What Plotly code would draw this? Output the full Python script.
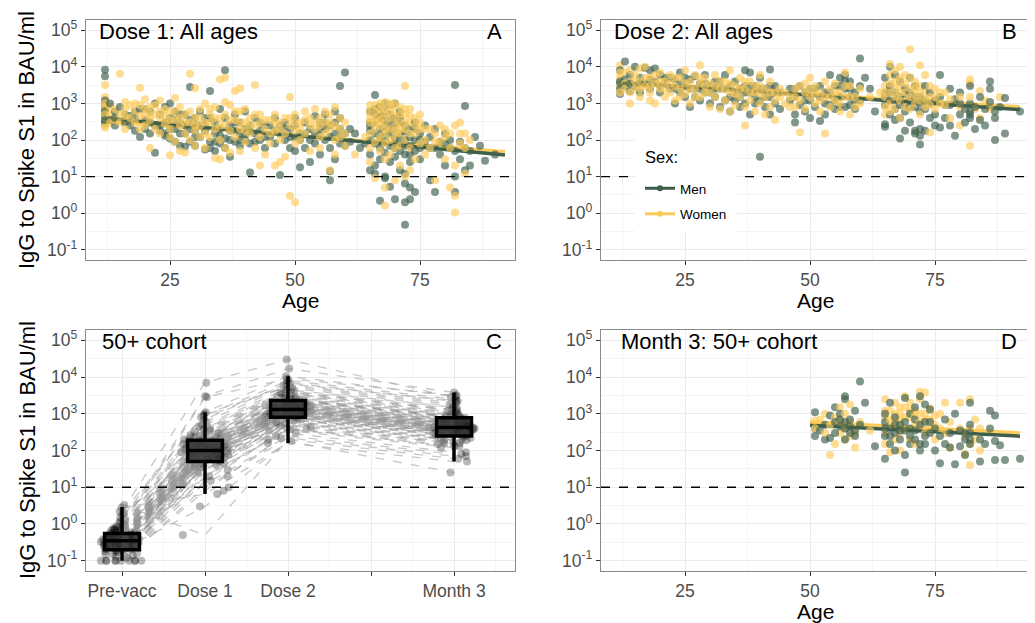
import plotly.graph_objects as go

# ---------------- data ----------------
MEN_COLOR = "#3E5F4C"
WOMEN_COLOR = "#FDCB5A"
SEX_LABELS = ["Men", "Women"]

# Panel A: Dose 1, all ages  (age, [IgG values in BAU/ml])
A_men = [
 (12, [280, 300, 700, 900, 1200, 8300, 5500, 450, 600, 350]), (13, [1000, 350]), (14, [600, 250, 400]),
 (15, [800]), (16, [500, 300]), (17, [450, 250]), (18, [180, 400, 600]), (19, [120, 700]),
 (20, [350, 200, 700]), (21, [150, 600, 300]), (22, [45, 1000, 250]), (23, [180, 500, 250]),
 (24, [800, 300, 130, 150]), (25, [1000, 400, 110, 200]), (26, [600, 90, 200, 350]), (27, [300, 70, 150, 500]),
 (28, [150, 500, 65, 250]), (29, [2800, 200, 90, 350]), (30, [180, 70, 250, 400, 120]), (31, [600, 120, 250]),
 (32, [250, 55, 180, 400]), (33, [2200, 400, 90, 60]), (34, [150, 300, 50, 90]), (35, [700, 200, 80, 130]),
 (36, [8000, 110, 400, 60]), (37, [250, 100, 35, 180]), (38, [500, 180, 90, 300]), (39, [300, 150, 70, 100]),
 (40, [600, 100, 200, 140]), (41, [13, 250, 80, 170]), (42, [400, 150, 90]), (43, [180, 300, 100]),
 (44, [120, 250, 60]), (45, [250, 120]), (46, [80, 400, 180]), (47, [11, 150, 250]), (48, [300, 200, 100]),
 (49, [120, 60, 200]), (50, [250, 50, 400, 120]), (51, [18, 150, 100]), (52, [60, 300, 150]),
 (53, [200, 25, 100]), (54, [450, 80, 150]), (55, [40, 300, 130, 200]), (56, [200, 500, 100, 300]),
 (57, [8, 14, 250, 60, 120]), (58, [30, 300, 150, 600]), (59, [3000, 400, 80, 200, 120]),
 (60, [7000, 150, 70]), (61, [200, 90]), (62, [150]), (63, [60]), (64, [80]),
 (65, [15, 100, 250, 40, 600, 300, 180]), (66, [1700, 20, 12, 300, 150, 80, 500, 700]),
 (67, [2.2, 400, 60, 200, 30, 800, 120, 500]), (68, [1000, 10, 250, 100, 45, 600, 9, 350, 160]),
 (69, [5.3, 300, 150, 70, 25, 500, 200, 900]), (70, [2.4, 1000, 200, 80, 400, 35, 120, 60, 250]),
 (71, [300, 50, 600, 150, 15, 100, 400]), (72, [0.48, 2, 6.5, 100, 250, 40, 12, 170, 70]),
 (73, [2.4, 5, 200, 70, 25, 120, 40]), (74, [3.8, 100, 300, 50, 200]), (75, [150, 60, 30, 100]),
 (76, [250, 90]), (77, [8, 120, 60]), (78, [3.8, 60, 200]), (79, [90, 40]), (80, [150, 20, 80]),
 (81, [60, 100]), (82, [3200, 3.8, 10, 50]), (83, [30, 90]), (84, [850, 15, 60]), (85, [50, 20]),
 (86, [120]), (87, [70]), (88, [27]), (90, [40]),
]
A_women = [
 (12, [3200, 1500, 600, 400, 250, 220, 1000, 800, 500]), (13, [800, 500, 300]), (14, [700, 350]),
 (15, [6500, 300, 500]), (16, [1100, 700, 200, 450]), (17, [400, 900]), (18, [600, 300, 1000]),
 (19, [2700, 900, 200, 450]), (20, [1300, 500, 250, 700]), (21, [60, 800, 350, 500]), (22, [500, 200, 900]),
 (23, [1200, 400, 150, 600]), (24, [700, 280, 450]), (25, [38, 600, 200, 120, 350]),
 (26, [1400, 350, 90, 600]), (27, [800, 250, 50, 400]), (28, [45, 500, 150, 300]),
 (29, [6500, 300, 100, 600]), (30, [2600, 400, 180, 70, 250]), (31, [700, 250, 400, 120]),
 (32, [1000, 150, 60, 300]), (33, [500, 120, 300, 700]), (34, [32, 800, 200, 400]),
 (35, [4500, 30, 400, 100, 250]), (36, [5000, 1100, 250, 60, 500]), (37, [900, 180, 45, 350]),
 (38, [2200, 350, 120, 600]), (39, [2600, 600, 200, 50, 300]), (40, [300, 90, 700, 180]),
 (41, [400, 150, 250]), (42, [3200, 250, 60, 500]), (43, [20, 500, 120, 300]), (44, [200, 40, 350]),
 (45, [350, 80, 150]), (46, [20, 180, 500, 300]), (47, [25, 300, 100, 200]), (48, [35, 400, 150]),
 (49, [1500, 3, 250, 400]), (50, [2, 500, 80, 180, 300]), (51, [300, 100, 200]), (52, [600, 150, 350]),
 (53, [250, 50, 400]), (54, [700, 200, 300]), (55, [400, 60, 120, 250]), (56, [300, 150, 600]),
 (57, [15, 500, 200, 300]), (58, [800, 100, 40, 250]), (59, [400, 200, 120]), (60, [150, 70, 300]),
 (62, [40]), (64, [120]),
 (65, [600, 300, 150, 60, 25, 400, 900]), (66, [900, 400, 200, 90, 9, 600, 300]),
 (67, [1000, 500, 250, 120, 50, 700, 350]), (68, [1.6, 5, 1100, 700, 300, 150, 80, 30, 500, 200]),
 (69, [900, 400, 200, 100, 40, 600, 1000]), (70, [1000, 600, 250, 120, 60, 8, 400, 180]),
 (71, [800, 300, 150, 70, 20, 500, 200]), (72, [3000, 10, 500, 200, 100, 700, 300]),
 (73, [700, 300, 60, 15, 450, 150]), (74, [400, 150, 30, 250]), (75, [500, 200, 80, 300]),
 (76, [100, 40, 200]), (77, [200, 60]), (78, [8, 150, 90]), (79, [250, 90]), (80, [30, 200, 120]),
 (81, [5, 150, 60]), (82, [3, 1.05, 250, 20]), (83, [300, 80, 150]), (84, [150, 12, 60]), (85, [100]),
]

# Panel B: Dose 2, all ages
B_men = [
 (12, [1800, 3500, 8000, 2500, 4000]), (13, [14000, 4500, 3000]), (14, [2200, 6000, 3500]),
 (15, [10000, 3000]), (16, [5000, 2000, 3500]), (17, [9500, 3500]), (18, [8000, 2500, 4500]),
 (19, [9000, 4000]), (20, [6000, 3000, 2000]), (21, [3500, 5000]), (22, [2500, 5000]), (23, [1000, 4500, 2500]),
 (24, [2000, 7000, 3500]), (25, [3000, 1500, 5000]), (26, [4500, 800, 2500]), (27, [2500, 5500, 1500]),
 (28, [1200, 3500, 2500]), (29, [6000, 2000, 3500]), (30, [3000, 1000, 2000]), (31, [4000, 1500, 2500]),
 (32, [2500, 800, 4000]), (33, [6000, 1200, 2500]), (34, [3000, 600, 1500]), (35, [2000, 4000, 1200]),
 (36, [1500, 800, 2500]), (37, [8000, 3000, 1000, 2000]), (38, [2000, 500, 7000, 3000]),
 (39, [1500, 3000, 1000]), (40, [35, 1200, 5000, 2500]), (41, [2500, 800, 1500]), (42, [8500, 1500, 500, 3000]),
 (43, [3000, 1000, 2000]), (44, [2000, 700]), (46, [2500, 1200]), (47, [300, 1500, 500, 2500]),
 (48, [3000, 900]), (49, [2000, 600, 1200]), (50, [1200, 400, 2500]), (51, [2500, 800]),
 (52, [330, 1500, 3000]), (53, [1000, 500, 2000]), (54, [2000, 6000, 900]), (55, [1200, 700, 3000]),
 (56, [3000, 5000, 1500, 800]), (57, [6000, 800, 2500, 4000]), (58, [1500, 4000, 900, 2500]),
 (59, [2000, 700, 1200]), (60, [17000, 1200, 3000]), (61, [5000]), (62, [2500]), (63, [600]),
 (65, [270, 230, 5000, 2000, 900, 1500]), (66, [10000, 3000, 1200, 500, 2000]),
 (67, [350, 2000, 700, 6000, 1200]), (68, [110, 4000, 1500, 400, 900]), (69, [600, 180, 2500, 1000, 1800]),
 (70, [1200, 300, 5000, 2000, 800]), (71, [150, 180, 800, 3000, 1500]), (72, [75, 130, 200, 1500, 600, 1000]),
 (73, [3000, 700, 180, 1200]), (74, [1000, 400, 2000]), (75, [500, 250, 1200]), (76, [6000, 220, 1500]),
 (77, [400, 900]), (78, [2500, 250, 900]), (79, [1300, 130]), (80, [2000, 500, 1000]), (81, [700, 300]),
 (82, [3000, 1000, 400, 600, 500]), (83, [200, 800]), (84, [1500, 350]), (85, [250, 700]),
 (86, [4000, 2500, 1100]), (87, [400, 100, 600]), (88, [800]), (89, [1400, 150]), (92, [600]),
]
B_women = [
 (12, [11000, 5000, 3000, 2000, 7000]), (13, [7000, 3500, 2500]), (14, [1000, 4000, 8000, 2000]),
 (15, [2500, 6000, 4000]), (16, [9000, 4000, 1500, 2500]), (17, [3000, 10000, 5000]),
 (18, [2000, 5000, 1200, 3000]), (19, [1000, 3500, 6000]), (20, [7000, 2500, 4000]), (21, [1500, 4000, 2500]),
 (22, [6000, 2000, 3500]), (23, [3000, 1200, 5000]), (24, [5000, 2500, 1500]), (25, [8000, 1800, 3500]),
 (26, [4000, 1000, 2500]), (27, [2500, 6000, 1500]), (28, [11000, 1500, 3500, 5000]), (29, [2000, 5000, 3000]),
 (30, [3500, 800, 2000]), (31, [6000, 1500, 3000]), (32, [2500, 700, 4000]), (33, [4000, 1200, 2500]),
 (34, [8000, 2000, 600, 3500]), (35, [3000, 900, 1800]), (36, [1500, 5000, 2500]), (37, [250, 2500, 800, 4000]),
 (38, [4000, 1200, 2000]), (39, [2000, 600, 3000]), (40, [3000, 1000, 6000, 1800]), (41, [1500, 500, 2500]),
 (42, [4000, 800, 2000]), (43, [350, 2000, 1200]), (44, [1500, 2500]), (45, [2000, 1000]), (46, [1500, 800]),
 (47, [2500, 800, 1500]), (48, [160, 3000, 1200]), (49, [2000, 700, 3500]), (50, [5000, 1500, 2500]),
 (51, [3000, 1000, 1800]), (52, [2000, 600, 1200]), (53, [150, 4000, 1500]), (54, [2500, 800, 1500]),
 (55, [1200, 3500, 2000]), (56, [2000, 600, 1000]), (57, [7000, 1500, 3000]), (58, [3000, 500, 1500]),
 (59, [1500, 800]), (60, [2500, 1000]), (62, [1500]), (64, [2000]),
 (65, [800, 3000, 1500, 500, 2000]), (66, [12000, 6000, 2000, 1000, 600, 3500]),
 (67, [8000, 4000, 1500, 700, 2500]), (68, [10000, 3000, 1200, 400, 2000, 5000]), (69, [6000, 2000, 800, 3500]),
 (70, [30000, 5000, 1500, 700, 2500]), (71, [4000, 2500, 1000, 1600]), (72, [11000, 3000, 1200, 500, 2000]),
 (73, [6000, 2000, 800, 1300]), (74, [1500, 3000, 160, 900]), (75, [2500, 700, 1500]), (76, [1000, 2000]),
 (77, [2000, 900]), (78, [1300, 400]), (80, [800, 250, 1500]), (82, [4500, 3500, 70, 1500]), (83, [700]),
 (84, [2200, 400]), (85, [1200]), (86, [700]), (88, [1500]),
]

# Panel D: Month 3, 50+ cohort
D_men = [
 (51, [1100, 400, 250]), (52, [350]), (53, [200, 500]), (54, [220, 900]), (55, [1500, 600, 300]),
 (56, [1000, 450, 700]), (57, [2500, 3000, 400, 200, 600]), (58, [700, 300, 450]), (59, [1200, 250, 350]),
 (60, [7500, 500]), (61, [2000]), (63, [130]), (65, [600, 250, 60, 1000, 400]), (66, [150, 400, 2000, 250]),
 (67, [300, 100, 800, 500]), (68, [200, 500, 350]), (69, [25, 75, 2700, 350, 600]), (70, [150, 1000, 400, 250]),
 (71, [700, 200, 1500, 350]), (72, [100, 3000, 500, 150]), (73, [1800, 150, 250, 600]), (74, [600, 1300, 300]),
 (75, [400, 100]), (76, [45, 250]), (77, [150, 700]), (78, [120, 300]), (79, [42, 1000]), (80, [130, 350]),
 (81, [75, 300, 200]), (82, [2000, 200, 500, 150, 300]), (84, [50, 200]), (85, [150]), (86, [1200, 400]),
 (87, [55, 180, 900]), (88, [140]), (89, [55]), (92, [60]),
]
D_women = [
 (51, [650, 400]), (52, [700]), (53, [1000, 300]), (54, [75, 500]), (55, [800, 150]), (56, [300, 1500, 600]),
 (57, [400, 200, 1000]), (58, [1800, 250, 600]), (59, [300, 120]), (60, [600]), (62, [350]),
 (65, [800, 2500, 300, 150, 1200]), (66, [1200, 500, 90, 700]), (67, [2000, 600, 200, 1000]),
 (68, [700, 1000, 300, 100, 1500]), (69, [3000, 1500, 400, 800]), (70, [2000, 800, 200, 1200]),
 (71, [1200, 500, 150, 900]), (72, [4000, 2500, 600, 1000]), (73, [3800, 1000, 300, 700]),
 (74, [1400, 700, 400]), (75, [500, 200, 900]), (76, [1000, 400]), (77, [300, 2000]), (78, [600, 120]),
 (80, [2000, 400]), (81, [250, 80]), (82, [2500, 40, 150, 400]), (83, [200, 700]), (84, [400, 100]),
]

# Fitted (log-linear) trend lines: ages and fitted values at the ends
A_fit_age = [12, 92]; A_fit_men = [400, 39]; A_fit_women = [330, 48]
B_fit_age = [12, 92]; B_fit_men = [3800, 680]; B_fit_women = [3600, 800]
D_fit_age = [50, 92]; D_fit_men = [490, 245]; D_fit_women = [600, 300]

# Panel C: 50+ cohort trajectories (one value per person per time point)
C_labels = ["Pre-vacc", "Dose 1", "Dose 2", "", "Month 3"]
C_pos = [1, 2, 3, 4, 5]
C_time_pos = [1, 2, 3, 5]
C_pre = [0.10, 0.10, 0.10, 0.10, 0.10, 0.10, 0.10, 0.12, 0.14, 0.15,
         0.17, 0.18, 0.20, 0.20, 0.21, 0.22, 0.24, 0.25, 0.26, 0.28,
         0.30, 0.30, 0.32, 0.33, 0.35, 0.35, 0.36, 0.38, 0.40, 0.40,
         0.42, 0.44, 0.45, 0.48, 0.50, 0.50, 0.52, 0.55, 0.58, 0.60,
         0.62, 0.65, 0.70, 0.75, 0.80, 0.85, 0.90, 1.00, 1.10, 1.30,
         1.50, 1.80, 2.20, 2.80, 3.30, 0.25, 0.30, 0.18, 0.45, 0.35,
         0.20, 0.60, 0.28, 0.40, 0.15, 0.50, 0.32, 0.22, 0.70, 0.38,
         0.10, 0.10, 0.13, 0.19, 0.23, 0.27, 0.31, 0.34, 0.37, 0.41,
         0.46, 0.53, 0.57, 0.64, 0.72, 0.95, 1.20, 0.29, 0.24, 0.43,
         0.10, 0.16, 0.26, 0.33, 0.39, 0.47, 0.56, 0.68, 0.85, 2.00]
C_dose1 = [8, 30, 60, 120, 45, 200, 15, 90, 70, 150,
           25, 110, 55, 300, 40, 80, 130, 20, 180, 65,
           95, 250, 35, 140, 100, 50, 600, 75, 160, 12,
           220, 85, 120, 45, 400, 105, 60, 280, 30, 190,
           140, 350, 70, 900, 115, 55, 240, 170, 3000, 500,
           1100, 130, 7000, 6.5, 0.5, 80, 100, 40, 210, 90,
           3, 160, 65, 125, 18, 300, 75, 110, 700, 150,
           20, 45, 60, 85, 130, 95, 150, 70, 110, 200,
           260, 120, 40, 180, 320, 450, 800, 55, 90, 135,
           10, 35, 75, 100, 115, 145, 230, 380, 2800, 1000]
C_dose2 = [300, 600, 900, 1500, 700, 2500, 400, 1200, 1000, 1800,
           500, 1400, 800, 3500, 650, 1100, 1600, 350, 2200, 950,
           1300, 3000, 550, 1700, 1250, 850, 6000, 1050, 2000, 250,
           2600, 1150, 1450, 750, 4500, 1350, 900, 3200, 450, 2300,
           1900, 4000, 1000, 8000, 1500, 800, 2800, 2100, 17000, 5000,
           10500, 1600, 30000, 160, 200, 1100, 1300, 600, 2400, 1200,
           180, 1700, 950, 1400, 380, 3300, 1000, 1250, 7000, 1800,
           400, 700, 1000, 1300, 1600, 1200, 1900, 900, 1400, 2400,
           2700, 1500, 550, 2000, 3600, 4200, 6500, 750, 1100, 1700,
           220, 480, 850, 1250, 1350, 1800, 2500, 3800, 9000, 5500]
C_month3 = [90, 200, 300, 500, 250, 800, 150, 400, 350, 600,
            170, 450, 280, 1100, 220, 380, 520, 120, 700, 330,
            420, 950, 190, 560, 410, 300, 2000, 360, 650, 80,
            850, 390, 480, 260, 1500, 440, 310, 1000, 160, 750,
            620, 1300, 340, 2500, 500, 270, 900, 680, 3800, 1600,
            3000, 530, 2800, 50, 60, 370, 430, 210, 780, 400,
            25, 550, 320, 460, 130, 1050, 350, 410, 2200, 580,
            130, 240, 330, 430, 520, 400, 640, 300, 470, 800,
            900, 500, 190, 700, 1200, 1400, 2300, 260, 380, 560,
            70, 160, 280, 420, 450, 610, 830, 1250, 3200, 1800]
# box summaries (log scale)
C_q1 = [0.2, 50, 800, 250]
C_median = [0.35, 100, 1300, 420]
C_q3 = [0.55, 190, 2300, 780]
C_low = [0.1, 6.5, 160, 50]
C_high = [2.9, 1100, 10500, 3800]

threshold = 10
y_tick_vals = [0.1, 1, 10, 100, 1000, 10000, 100000]
y_tick_text = ["10<sup>-1</sup>", "10<sup>0</sup>", "10<sup>1</sup>", "10<sup>2</sup>",
               "10<sup>3</sup>", "10<sup>4</sup>", "10<sup>5</sup>"]
age_ticks = [25, 50, 75]

# ---------------- figure ----------------
OFF = 8                      # page body margin
W, H = 1035 - OFF, 623 - OFF
FONT = "Liberation Sans, Arial, sans-serif"
Y_RANGE = [-1.28, 5.28]
C_RANGE = [0.566, 5.735]

def fx(p):
    return (p - OFF) / W

def fy(p):
    return 1 - (p - OFF) / H

def flat(groups, col):
    pts = []
    for a, vals in groups:
        for v in vals:
            pts.append((a, v, col))
    return pts

def interleave(a, b):
    out = []
    for i in range(max(len(a), len(b))):
        if i < len(a):
            out.append(a[i])
        if i < len(b):
            out.append(b[i])
    return out

fig = go.Figure()

def add_scatter_panel(men, women, fit_age, fit_m, fit_w, xa, ya):
    fig.add_trace(go.Scatter(x=fit_age, y=fit_w, mode="lines", xaxis=xa, yaxis=ya, showlegend=False,
                             line=dict(color=WOMEN_COLOR, width=3.5)))
    fig.add_trace(go.Scatter(x=fit_age, y=fit_m, mode="lines", xaxis=xa, yaxis=ya, showlegend=False,
                             line=dict(color=MEN_COLOR, width=3.5)))
    pts = interleave(flat(men, MEN_COLOR), flat(women, WOMEN_COLOR))
    fig.add_trace(go.Scatter(x=[p[0] for p in pts], y=[p[1] for p in pts], mode="markers",
                             xaxis=xa, yaxis=ya, showlegend=False,
                             marker=dict(color=[p[2] for p in pts], size=8, opacity=0.66, line=dict(width=0))))

add_scatter_panel(A_men, A_women, A_fit_age, A_fit_men, A_fit_women, "x", "y")
add_scatter_panel(B_men, B_women, B_fit_age, B_fit_men, B_fit_women, "x2", "y2")
add_scatter_panel(D_men, D_women, D_fit_age, D_fit_men, D_fit_women, "x4", "y4")

# Panel C: trajectories
lx, ly = [], []
for i in range(len(C_pre)):
    vals = [C_pre[i], C_dose1[i], C_dose2[i], C_month3[i]]
    lx += C_time_pos + [None]
    ly += vals + [None]
fig.add_trace(go.Scatter(x=lx, y=ly, mode="lines", xaxis="x3", yaxis="y3", showlegend=False,
                         line=dict(color="rgba(150,150,150,0.5)", width=1.4, dash="dash")))
px_, py_ = [], []
for pos, series in zip(C_time_pos, [C_pre, C_dose1, C_dose2, C_month3]):
    px_ += [pos] * len(series)
    py_ += series
fig.add_trace(go.Box(x=px_, y=py_, xaxis="x3", yaxis="y3", showlegend=False, boxpoints="all",
                     jitter=1, pointpos=0, width=0.6, fillcolor="rgba(0,0,0,0)",
                     line=dict(color="rgba(0,0,0,0)", width=0),
                     marker=dict(color="rgba(0,0,0,0.28)", size=8)))
# summary boxes on an overlaying copy of panel C axes so they sit above the points
fig.add_trace(go.Box(x=C_time_pos, q1=C_q1, median=C_median, q3=C_q3, lowerfence=C_low,
                     upperfence=C_high, xaxis="x5", yaxis="y5", showlegend=False, boxpoints=False,
                     width=0.42, whiskerwidth=0, fillcolor="rgba(45,45,45,0.8)",
                     line=dict(color="black", width=3.5)))

# legend entries
for name, col in zip(SEX_LABELS, (MEN_COLOR, WOMEN_COLOR)):
    fig.add_trace(go.Scatter(x=[None], y=[None], mode="lines+markers", name=name, xaxis="x2", yaxis="y2",
                             line=dict(color=col, width=3), marker=dict(color=col, size=6),
                             legendgroup=name))

# domains (pixel based)
colx = {0: [fx(86), fx(515)], 1: [fx(601), fx(1030)]}
rowy = {0: [fy(260), fy(20)], 1: [fy(571), fy(330)]}

y_minor = [10 ** (k + 0.5) for k in range(-2, 6)]
GRID = "#ebebeb"
MINOR = "#f4f4f4"
BORDER = "#8a8a8a"
TICKFONT = dict(size=17.5, color="#4d4d4d")

def yax(dom, anchor):
    return dict(domain=dom, anchor=anchor, type="log", range=Y_RANGE, tickmode="array",
                tickvals=y_tick_vals, ticktext=y_tick_text, showgrid=True, gridcolor=GRID, gridwidth=1.3,
                minor=dict(tickmode="array", tickvals=y_minor, showgrid=True, gridcolor=MINOR,
                           gridwidth=0.8, ticks=""),
                showline=True, linecolor=BORDER, linewidth=1.2, mirror=True, ticks="outside", ticklen=4,
                tickcolor="#333333", tickfont=TICKFONT, zeroline=False, automargin=False)

def xage(dom, anchor):
    return dict(domain=dom, anchor=anchor, range=[8.2, 94], tickmode="array", tickvals=age_ticks,
                showgrid=True, gridcolor=GRID, gridwidth=1.3,
                minor=dict(tickmode="array", tickvals=[12.5, 37.5, 62.5, 87.5], showgrid=True,
                           gridcolor=MINOR, gridwidth=0.8, ticks=""),
                showline=True, linecolor=BORDER, linewidth=1.2, mirror=True, ticks="outside", ticklen=4,
                tickcolor="#333333", tickfont=TICKFONT, zeroline=False, automargin=False)

xc = dict(domain=colx[0], anchor="y3", range=C_RANGE, tickmode="array", tickvals=C_pos,
          ticktext=C_labels, showgrid=True, gridcolor=GRID, gridwidth=1.3,
          minor=dict(tickmode="array", tickvals=[1.5, 2.5, 3.5, 4.5, 5.5], showgrid=True,
                     gridcolor=MINOR, gridwidth=0.8, ticks=""),
          showline=True, linecolor=BORDER, linewidth=1.2, mirror=True, ticks="outside", ticklen=4,
          tickcolor="#333333", tickfont=TICKFONT, zeroline=False, automargin=False)

fig.update_layout(
    width=W, height=H, margin=dict(l=0, r=0, t=0, b=0), autosize=False,
    paper_bgcolor="white", plot_bgcolor="white", boxmode="overlay",
    font=dict(family=FONT, color="black"),
    xaxis=xage(colx[0], "y"), yaxis=yax(rowy[0], "x"),
    xaxis2=xage(colx[1], "y2"), yaxis2=yax(rowy[0], "x2"),
    xaxis3=xc, yaxis3=yax(rowy[1], "x3"),
    xaxis4=xage(colx[1], "y4"), yaxis4=yax(rowy[1], "x4"),
    xaxis5=dict(overlaying="x3", anchor="y5", range=C_RANGE, visible=False, showgrid=False,
                zeroline=False),
    yaxis5=dict(overlaying="y3", anchor="x5", type="log", range=Y_RANGE, visible=False, showgrid=False,
                zeroline=False),
    legend=dict(x=fx(640), y=fy(173), xanchor="left", yanchor="top", bgcolor="rgba(0,0,0,0)",
                font=dict(size=13.5), itemwidth=30, tracegroupgap=5),
)

# threshold lines
for xa, ya in (("x", "y"), ("x2", "y2"), ("x3", "y3"), ("x4", "y4")):
    fig.add_shape(type="line", xref=f"{xa} domain", yref=ya, x0=0, x1=1, y0=threshold, y1=threshold,
                  line=dict(color="black", width=1.3, dash="dash"))

# legend background box and title
fig.add_shape(type="rect", xref="paper", yref="paper", x0=fx(635), x1=fx(737), y0=fy(232), y1=fy(140),
              fillcolor="white", line=dict(width=0), layer="above")
fig.add_annotation(xref="paper", yref="paper", x=fx(643), y=fy(157), text="Sex:", showarrow=False,
                   xanchor="left", yanchor="middle", font=dict(size=16.5, color="black"))

# panel titles and letters
panels = [("x", "y", "Dose 1: All ages", "A", 0.026),
          ("x2", "y2", "Dose 2: All ages", "B", 0.026),
          ("x3", "y3", "50+ cohort", "C", 0.033),
          ("x4", "y4", "Month 3: 50+ cohort", "D", 0.042)]
for xa, ya, title, letter, tx in panels:
    fig.add_annotation(xref=f"{xa} domain", yref=f"{ya} domain", x=tx, y=0.953, text=title,
                       showarrow=False, xanchor="left", yanchor="middle", font=dict(size=22, color="black"))
    fig.add_annotation(xref=f"{xa} domain", yref=f"{ya} domain", x=0.975, y=0.953, text=letter,
                       showarrow=False, xanchor="right", yanchor="middle", font=dict(size=22, color="black"))

# axis titles
for yc in (140, 450):
    fig.add_annotation(xref="paper", yref="paper", x=fx(27), y=fy(yc), text="IgG to Spike S1 in BAU/ml",
                       textangle=-90, showarrow=False, xanchor="center", yanchor="middle",
                       font=dict(size=22, color="black"))
for xcen, yc in ((300.5, 300), (815.5, 300), (815.5, 611)):
    fig.add_annotation(xref="paper", yref="paper", x=fx(xcen), y=fy(yc), text="Age",
                       showarrow=False, xanchor="center", yanchor="middle",
                       font=dict(size=21, color="black"))

fig.write_html("out.html")
